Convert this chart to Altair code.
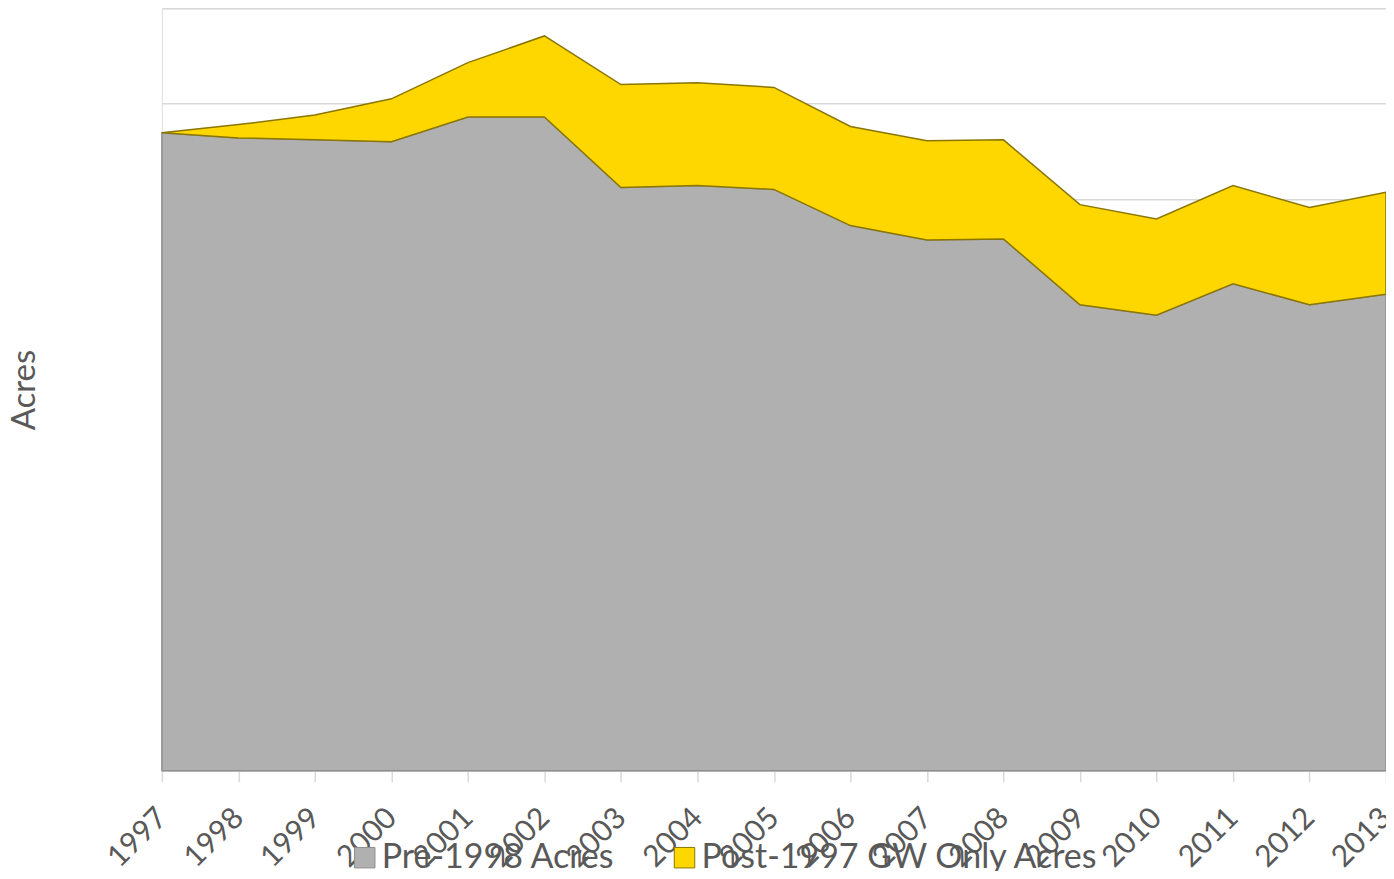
import altair as alt
import pandas as pd

years = [str(y) for y in range(1997, 2014)]
pre_1998 = [66950, 66400, 66200, 66000, 68600, 68600, 61200, 61400, 61000,
            57200, 55700, 55800, 48900, 47800, 51100, 48900, 50000]
post_1997 = [0, 1400, 2600, 4500, 5700, 8500, 10800, 10800, 10700,
             10400, 10400, 10400, 10500, 10100, 10300, 10200, 10700]
series_names = ["Pre-1998 Acres", "Post-1997 GW Only Acres"]
series_colors = ["#b0b0b0", "#ffd700"]
grid_values = [10000, 20000, 30000, 40000, 50000, 60000, 70000, 80000]

rows = []
for i, y in enumerate(years):
    rows.append({"Year": y, "Series": series_names[0], "Acres": pre_1998[i], "ord": 0})
    rows.append({"Year": y, "Series": series_names[1], "Acres": post_1997[i], "ord": 1})
df = pd.DataFrame(rows)

FONT = "Lato"
TXT = "#595959"

chart = alt.Chart(df).mark_area(
    strokeWidth=1.5, interpolate="linear"
).encode(
    x=alt.X("Year:O", scale=alt.Scale(type="point", padding=0),
            axis=alt.Axis(title=None, labelAngle=-45, labelAlign="right",
                          labelBaseline="middle", labelPadding=31,
                          labelFontSize=30, labelFont=FONT, labelColor=TXT,
                          tickColor="#d9d9d9", tickSize=11, tickWidth=1.5,
                          domainColor="#d9d9d9", domainWidth=1.5, grid=False,
                          labelOverlap=False)),
    y=alt.Y("Acres:Q", stack="zero",
            scale=alt.Scale(domain=[0, 80000], nice=False),
            axis=alt.Axis(title="Acres", labels=False, ticks=False, domain=False,
                          values=grid_values, gridColor="#d9d9d9", gridWidth=1.5,
                          titleFont=FONT, titleFontSize=33, titleColor=TXT,
                          titleFontWeight="normal", titleX=-137,
                          titleBaseline="middle")),
    color=alt.Color("Series:N",
                    scale=alt.Scale(domain=series_names, range=series_colors),
                    legend=alt.Legend(title=None, orient="none", legendX=186,
                                      legendY=833, direction="horizontal",
                                      symbolType="square", symbolSize=420,
                                      symbolStrokeColor="#8c8c8c",
                                      symbolStrokeWidth=1,
                                      labelFont=FONT, labelFontSize=34,
                                      labelColor=TXT, columnPadding=52,
                                      labelOffset=0, padding=0,
                                      labelLimit=500)),
    stroke=alt.Stroke("Series:N",
                      scale=alt.Scale(domain=series_names,
                                      range=["#8f8f8f", "#8a7600"]),
                      legend=None),
    order=alt.Order("ord:Q"),
).properties(
    width=1225, height=763,
    autosize=alt.AutoSizeParams(type="none"),
    padding={"left": 154, "top": 0, "right": 0, "bottom": 100},
).configure_view(stroke=None).configure(background="white")

chart.save("out.html", embed_options={"renderer": "svg", "actions": False})
